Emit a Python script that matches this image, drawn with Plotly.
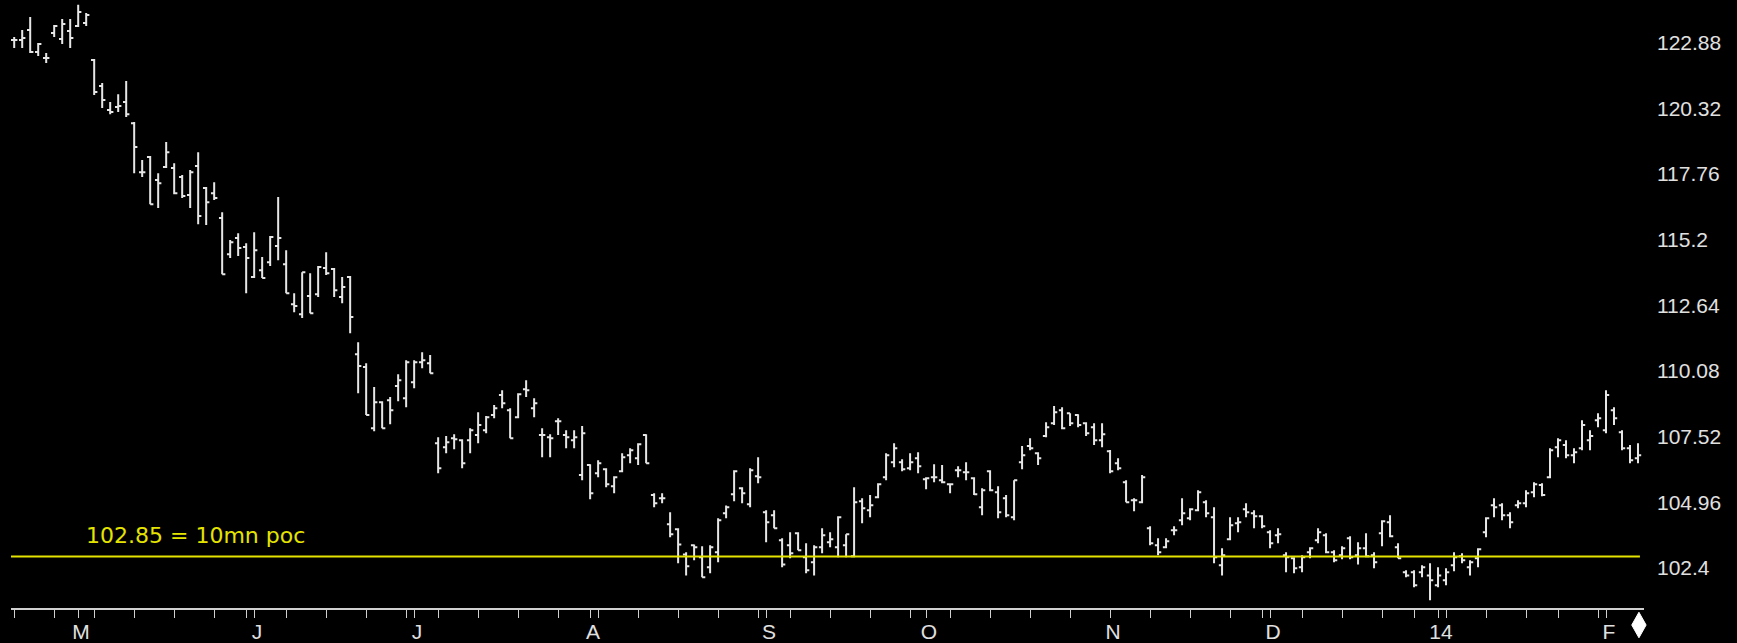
import pandas as pd
import plotly.graph_objects as go

# ---------------- data ----------------
start_date = "2013-04-19"
end_date = "2014-02-07"
holidays = ["2013-05-27", "2013-07-04", "2013-09-02", "2013-11-28",
            "2013-12-25", "2014-01-01", "2014-01-20"]

opens = [
    122.98, 122.98, 123.37, 122.51, 122.28, 123.25, 123.02, 123.33, 123.53, 123.64,
    122.20, 121.19, 120.25, 120.37, 120.56, 119.74, 117.83, 118.42, 117.52, 118.03,
    117.99, 117.64, 116.94, 118.07, 117.21, 117.01, 116.04, 114.63, 115.26, 114.91,
    113.74, 114.01, 114.32, 114.95, 114.24, 112.68, 112.29, 113.00, 113.07, 114.09,
    114.05, 112.96, 113.74, 110.73, 110.23, 107.85, 108.86, 108.94, 109.49, 109.02,
    109.64, 110.42, 110.38, 107.26, 107.11, 107.46, 107.38, 107.38, 107.58, 107.77,
    108.36, 109.14, 108.55, 108.28, 109.37, 108.63, 107.58, 107.50, 108.12, 107.58,
    107.38, 106.02, 106.41, 106.09, 106.25, 105.59, 106.17, 106.79, 106.68, 107.58,
    105.24, 105.12, 104.10, 103.91, 102.93, 103.29, 102.82, 102.43, 103.01, 104.53,
    105.27, 105.51, 104.88, 105.98, 104.57, 104.46, 103.48, 103.29, 103.75, 102.82,
    102.62, 103.21, 103.40, 103.21, 103.29, 102.86, 105.00, 104.65, 105.16, 105.94,
    106.52, 106.52, 106.29, 106.68, 105.86, 105.94, 105.82, 105.66, 106.21, 106.13,
    105.90, 104.77, 106.17, 105.35, 105.12, 104.38, 106.52, 107.15, 106.87, 107.54,
    108.04, 108.55, 108.43, 108.36, 108.04, 107.89, 107.38, 106.95, 106.48, 105.74,
    105.04, 104.96, 103.95, 103.29, 103.21, 103.87, 104.26, 104.34, 104.65, 104.96,
    104.38, 102.51, 103.52, 104.14, 104.69, 104.53, 104.42, 103.79, 103.68, 102.90,
    102.78, 102.43, 103.01, 103.48, 103.68, 103.01, 102.90, 103.56, 102.90, 103.17,
    102.90, 103.75, 104.18, 103.21, 102.23, 102.23, 102.23, 102.11, 101.73, 101.92,
    102.51, 102.86, 102.43, 102.78, 103.79, 104.85, 104.85, 104.46, 104.85, 104.92,
    105.35, 105.63, 105.94, 107.11, 107.19, 106.79, 107.07, 107.38, 108.16, 107.77,
    108.55, 107.69, 107.07, 106.68,
]
highs = [
    123.10, 123.37, 123.88, 122.86, 122.47, 123.57, 123.80, 123.80, 124.35, 124.03,
    122.24, 121.30, 120.56, 120.87, 121.38, 119.78, 118.30, 118.46, 117.79, 119.00,
    118.18, 117.72, 117.91, 118.61, 117.25, 117.44, 116.27, 115.18, 115.45, 115.06,
    115.49, 114.52, 115.34, 116.86, 114.79, 113.11, 113.93, 113.89, 114.17, 114.71,
    114.09, 113.74, 113.78, 111.20, 110.38, 109.45, 108.90, 109.06, 109.95, 110.50,
    110.50, 110.81, 110.70, 107.50, 107.54, 107.61, 107.42, 107.85, 108.47, 108.32,
    108.75, 109.33, 108.63, 109.21, 109.72, 109.02, 107.85, 107.61, 108.24, 107.77,
    107.77, 107.93, 106.44, 106.60, 106.29, 105.98, 106.87, 107.07, 107.26, 107.61,
    105.31, 105.31, 104.57, 103.95, 103.01, 103.32, 103.25, 103.29, 104.34, 104.84,
    106.21, 105.55, 106.29, 106.72, 104.65, 104.65, 103.56, 103.79, 103.79, 103.36,
    103.29, 103.95, 103.79, 104.42, 103.71, 105.55, 105.12, 105.24, 105.70, 106.87,
    107.26, 106.64, 106.87, 106.91, 105.94, 106.44, 106.41, 105.70, 106.37, 106.52,
    105.94, 105.51, 106.21, 105.59, 105.24, 105.82, 107.15, 107.46, 106.91, 108.08,
    108.71, 108.67, 108.43, 108.39, 108.08, 108.04, 108.04, 107.00, 106.68, 105.82,
    105.12, 106.02, 104.03, 103.56, 103.56, 104.03, 105.12, 104.73, 105.43, 105.04,
    104.77, 103.17, 104.38, 104.38, 104.92, 104.65, 104.46, 103.87, 103.95, 103.01,
    102.82, 102.90, 103.21, 103.95, 103.75, 103.09, 103.25, 103.64, 103.40, 103.75,
    103.01, 104.26, 104.46, 103.36, 102.31, 102.31, 102.51, 102.58, 102.43, 102.39,
    103.01, 102.97, 102.70, 103.17, 104.38, 105.12, 104.92, 104.57, 105.04, 105.43,
    105.74, 105.70, 107.07, 107.46, 107.38, 107.07, 108.16, 107.77, 108.43, 109.33,
    108.67, 107.77, 107.19, 107.26,
]
lows = [
    122.67, 122.67, 122.47, 122.36, 122.08, 123.10, 122.82, 122.67, 123.49, 123.53,
    120.84, 120.33, 120.09, 120.17, 119.98, 117.79, 117.64, 116.58, 116.43, 117.99,
    116.97, 116.82, 116.43, 115.80, 115.77, 116.74, 113.85, 114.48, 114.56, 113.11,
    113.70, 113.70, 114.17, 114.40, 113.11, 112.37, 112.14, 112.33, 112.96, 113.82,
    112.96, 112.72, 111.55, 109.21, 108.36, 107.73, 107.85, 108.00, 108.90, 108.67,
    109.41, 110.19, 109.99, 106.09, 106.87, 107.03, 106.29, 106.87, 107.26, 107.65,
    108.24, 108.63, 107.46, 108.24, 109.06, 108.28, 106.72, 106.72, 107.58, 107.07,
    107.07, 105.82, 105.08, 105.94, 105.55, 105.31, 106.13, 106.48, 106.41, 106.48,
    104.77, 104.92, 103.60, 102.58, 102.11, 102.70, 102.04, 102.19, 102.62, 104.34,
    105.00, 104.92, 104.77, 105.70, 103.40, 103.95, 102.43, 102.78, 103.09, 102.19,
    102.11, 102.97, 103.21, 102.82, 102.82, 102.82, 104.14, 104.38, 105.12, 105.82,
    106.33, 106.17, 106.21, 106.09, 105.47, 105.74, 105.70, 105.31, 105.94, 105.82,
    105.24, 104.46, 105.39, 104.34, 104.38, 104.26, 106.25, 106.99, 106.41, 107.50,
    107.97, 107.81, 107.93, 107.89, 107.54, 107.19, 107.11, 106.09, 106.21, 104.96,
    104.61, 104.92, 103.29, 102.90, 103.17, 103.68, 104.07, 104.26, 104.61, 104.38,
    102.58, 102.11, 103.48, 103.79, 104.38, 103.95, 103.95, 103.17, 103.36, 102.23,
    102.19, 102.23, 102.78, 103.36, 102.97, 102.62, 102.74, 102.74, 102.54, 102.82,
    102.39, 103.25, 103.60, 102.78, 102.04, 101.65, 102.04, 101.14, 101.65, 101.73,
    102.27, 102.58, 102.11, 102.43, 103.60, 104.38, 104.26, 103.95, 104.73, 104.77,
    105.16, 105.20, 105.90, 106.72, 106.68, 106.48, 106.99, 106.99, 107.89, 107.65,
    107.97, 106.99, 106.48, 106.48,
]
closes = [
    122.98, 123.06, 122.51, 122.82, 122.28, 123.53, 123.60, 123.06, 124.07, 123.96,
    120.95, 120.64, 120.17, 120.41, 120.09, 118.81, 117.83, 116.58, 117.40, 118.61,
    117.01, 116.90, 117.83, 116.12, 116.66, 116.82, 113.85, 115.10, 114.87, 114.48,
    114.79, 113.70, 115.30, 115.26, 113.11, 112.61, 113.93, 112.33, 114.13, 113.89,
    113.23, 113.35, 112.18, 110.27, 108.36, 108.86, 107.85, 108.55, 109.72, 110.42,
    110.42, 110.50, 109.99, 106.29, 107.30, 107.42, 106.48, 107.77, 107.97, 108.28,
    108.63, 108.82, 107.46, 109.17, 109.33, 108.82, 107.58, 107.46, 108.12, 107.50,
    107.50, 107.65, 105.31, 106.48, 105.66, 105.94, 106.72, 106.99, 107.22, 106.48,
    104.92, 105.12, 103.71, 103.32, 102.47, 103.21, 102.04, 103.21, 104.26, 104.77,
    106.17, 105.31, 106.21, 105.94, 104.18, 103.95, 102.54, 102.97, 103.09, 102.31,
    103.21, 103.68, 103.52, 104.38, 103.71, 104.96, 104.73, 104.85, 105.66, 106.79,
    107.07, 106.25, 106.52, 106.37, 105.90, 105.94, 105.74, 105.66, 106.21, 106.13,
    105.27, 105.43, 105.43, 104.57, 104.46, 105.82, 106.79, 107.07, 106.68, 107.89,
    108.47, 107.85, 108.04, 107.97, 107.65, 107.38, 107.61, 106.17, 106.29, 104.96,
    105.04, 105.94, 103.36, 103.01, 103.44, 103.87, 104.53, 104.69, 105.35, 104.53,
    102.82, 102.90, 104.07, 104.18, 104.57, 104.42, 104.03, 103.36, 103.71, 102.82,
    102.39, 102.82, 103.17, 103.79, 103.01, 102.70, 103.17, 102.82, 103.17, 102.86,
    102.62, 104.22, 103.64, 102.78, 102.11, 101.73, 102.43, 101.92, 102.11, 102.23,
    102.82, 102.70, 102.62, 103.13, 104.34, 104.77, 104.46, 104.18, 104.92, 105.31,
    105.66, 105.24, 106.99, 107.38, 106.79, 106.91, 107.97, 107.54, 108.24, 109.14,
    108.24, 107.07, 106.60, 106.79,
]

month_labels = ["M", "J", "J", "A", "S", "O", "N", "D", "14", "F"]
y_tick_values = [102.4, 104.96, 107.52, 110.08, 112.64, 115.2, 117.76, 120.32, 122.88]
y_tick_labels = ["102.4", "104.96", "107.52", "110.08", "112.64", "115.2", "117.76", "120.32", "122.88"]
poc_value = 102.85
poc_label = "102.85 = 10mn poc"

# ---------------- build dates ----------------
days = pd.bdate_range(start_date, end_date)
days = days[~days.isin(pd.to_datetime(holidays))]
dates = [d.strftime("%Y-%m-%d") for d in days]

# x ticks: last trading day of each week + first trading day of each month
tickvals, ticktext = [], []
m_i = 0
for i, d in enumerate(days):
    is_month_start = i > 0 and d.month != days[i - 1].month
    is_week_end = i < len(days) - 1 and days[i + 1].isocalendar()[1] != d.isocalendar()[1]
    if is_month_start:
        tickvals.append(dates[i])
        label = month_labels[m_i] if m_i < len(month_labels) else ""
        ticktext.append("\u00a0" + label if label else "")
        m_i += 1
    elif is_week_end:
        tickvals.append(dates[i])
        ticktext.append("")

bar_color = "#e6e6e6"
yellow = "#e4e400"
label_font = dict(family="Liberation Sans, Arial, sans-serif", size=21, color="#e0e0e0")

fig = go.Figure()
fig.add_trace(go.Ohlc(
    x=dates, open=opens, high=highs, low=lows, close=closes,
    increasing=dict(line=dict(color=bar_color, width=2)),
    decreasing=dict(line=dict(color=bar_color, width=2)),
    tickwidth=0.4,
    showlegend=False,
    hoverinfo="x+y",
))

fig.add_shape(type="line", xref="paper", yref="y", x0=0, x1=0.9975,
              y0=poc_value, y1=poc_value, line=dict(color=yellow, width=2))
fig.add_annotation(xref="paper", yref="y", x=0.045, y=poc_value,
                   xanchor="left", yanchor="middle", yshift=21,
                   text=poc_label, showarrow=False,
                   font=dict(family="DejaVu Sans, sans-serif", size=22, color=yellow))

# diamond scroll marker at the right end of the time axis
cx, cy, hw, hh = 0.9969, -0.028, 0.0044, 0.021
fig.add_shape(type="path", xref="paper", yref="paper",
              path=f"M {cx},{cy+hh} L {cx+hw},{cy} L {cx},{cy-hh} L {cx-hw},{cy} Z",
              fillcolor="white", line=dict(color="white", width=1))

fig.update_layout(
    width=1737, height=643,
    paper_bgcolor="black", plot_bgcolor="black",
    margin=dict(l=11, r=93, t=0, b=35, pad=0),
    showlegend=False,
    xaxis=dict(
        type="category",
        automargin=False,
        range=[-0.4, len(dates) - 0.25],
        rangeslider=dict(visible=False),
        showgrid=False, zeroline=False,
        showline=True, linecolor="#d0d0d0", linewidth=2,
        ticks="outside", ticklen=8, tickwidth=1, tickcolor="#d0d0d0",
        tickmode="array", tickvals=tickvals, ticktext=ticktext,
        tickfont=label_font, ticklabelstandoff=-4,
    ),
    yaxis=dict(
        side="right",
        automargin=False,
        range=[100.84, 124.54],
        showgrid=False, zeroline=False, showline=False,
        ticks="", tickmode="array", tickvals=y_tick_values, ticktext=y_tick_labels,
        tickfont=label_font, ticklabelstandoff=12,
    ),
)

fig.write_html(
    "out.html",
    config={"displayModeBar": False},
    post_script="document.body.style.margin='0';document.body.style.background='black';",
)
